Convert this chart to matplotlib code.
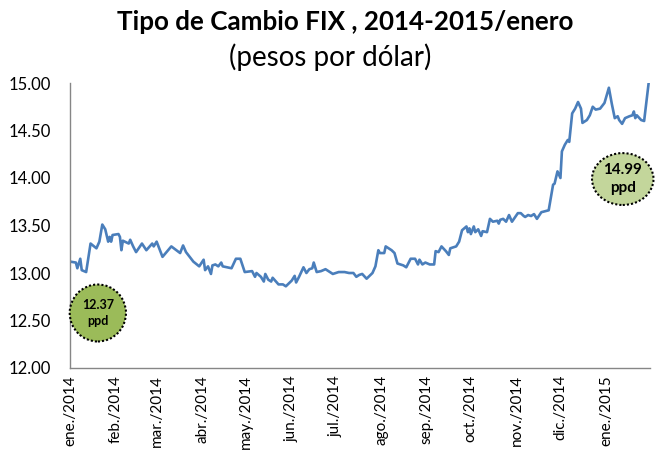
import numpy as np
import pandas as pd
import matplotlib
matplotlib.use("Agg")
import matplotlib.pyplot as plt
from matplotlib.patches import Ellipse

plt.rcParams.update({
    "font.family": ["Lato", "DejaVu Sans"],
    "axes.linewidth": 1.0,
})

# days since 2014-01-01 and FIX rate (pesos per dollar)
days = [0, 4, 5, 7, 8, 11, 14, 18, 20, 22, 24, 26, 27, 28, 29, 33, 34, 35, 36,
        40, 41, 43, 45, 49, 52, 56, 57, 59, 63, 69, 75, 77, 79, 84, 88, 91, 92,
        94, 96, 97, 99, 101, 103, 104, 110, 113, 116, 119, 124, 126, 127, 130,
        132, 133, 135, 137, 138, 142, 145, 147, 151, 153, 154, 156, 159, 161,
        163, 165, 166, 168, 171, 174, 179, 183, 187, 190, 193, 195, 197, 199,
        202, 204, 206, 208, 210, 211, 214, 215, 219, 221, 223, 227, 229, 232,
        235, 237, 238, 240, 242, 245, 248, 249, 251, 253, 256, 258, 259, 263,
        265, 267, 270, 271, 272, 273, 275, 276, 278, 280, 281, 284, 286, 288,
        291, 292, 293, 295, 297, 299, 301, 305, 307, 309, 310, 312, 314, 316,
        318, 321, 326, 329, 330, 332, 334, 335, 337, 339, 340, 342, 344, 346,
        348, 349, 352, 354, 356, 358, 361, 364, 367, 369, 371, 373, 374, 376,
        378, 381, 383, 384, 385, 386, 389, 391, 394]
fix = [13.12, 13.11, 13.05, 13.15, 13.03, 13.01, 13.31, 13.26, 13.33, 13.51,
       13.46, 13.33, 13.38, 13.33, 13.40, 13.41, 13.38, 13.24, 13.34, 13.31,
       13.35, 13.28, 13.22, 13.31, 13.24, 13.31, 13.28, 13.33, 13.17, 13.28,
       13.21, 13.29, 13.22, 13.12, 13.07, 13.14, 13.03, 13.07, 12.99, 13.08,
       13.09, 13.07, 13.11, 13.07, 13.05, 13.15, 13.15, 13.01, 13.02, 12.96,
       13.00, 12.96, 12.91, 12.99, 12.93, 12.91, 12.95, 12.88, 12.88, 12.86,
       12.92, 12.97, 12.90, 12.96, 13.06, 13.00, 13.04, 13.05, 13.11, 13.01,
       13.02, 13.04, 12.99, 13.01, 13.01, 13.00, 13.00, 12.96, 12.98, 12.99,
       12.94, 12.97, 13.00, 13.07, 13.24, 13.21, 13.21, 13.28, 13.24, 13.21,
       13.10, 13.08, 13.06, 13.15, 13.15, 13.09, 13.14, 13.09, 13.11, 13.09,
       13.09, 13.23, 13.22, 13.28, 13.23, 13.19, 13.26, 13.28, 13.33, 13.45,
       13.49, 13.43, 13.47, 13.41, 13.49, 13.43, 13.46, 13.39, 13.44, 13.43,
       13.57, 13.54, 13.55, 13.52, 13.56, 13.57, 13.54, 13.61, 13.54, 13.63,
       13.63, 13.60, 13.59, 13.61, 13.60, 13.62, 13.57, 13.64, 13.66, 13.93,
       13.94, 14.07, 14.00, 14.28, 14.35, 14.40, 14.38, 14.68, 14.73, 14.80,
       14.73, 14.58, 14.61, 14.66, 14.75, 14.72, 14.73, 14.79, 14.95, 14.78,
       14.63, 14.65, 14.61, 14.57, 14.63, 14.65, 14.66, 14.70, 14.63, 14.66,
       14.61, 14.60, 14.99]

month_labels = ["ene./2014", "feb./2014", "mar./2014", "abr./2014", "may./2014",
                "jun./2014", "jul./2014", "ago./2014", "sep./2014", "oct./2014",
                "nov./2014", "dic./2014", "ene./2015"]
y_ticks = [12.0, 12.5, 13.0, 13.5, 14.0, 14.5, 15.0]
low_label = "12.37\nppd"
high_label = "14.99\nppd"

dates = pd.Timestamp("2014-01-01") + pd.to_timedelta(days, unit="D")
month_starts = pd.date_range("2014-01-01", periods=len(month_labels), freq="MS")

fig = plt.figure(figsize=(6.6, 4.5), dpi=100)
ax = fig.add_axes([70 / 660, 1 - 368 / 450, 580 / 660, 285 / 450])

ax.plot(dates, fix, color="#4A7EBB", linewidth=1.9)

ax.set_ylim(12, 15)
ax.set_xlim(pd.Timestamp("2014-01-01"), pd.Timestamp("2015-01-31"))
ax.set_yticks(y_ticks)
ax.set_yticklabels([f"{v:.2f}" for v in y_ticks])
ax.set_xticks(month_starts)
ax.set_xticklabels(month_labels, rotation=90, va="top", ha="center")
ax.tick_params(axis="both", length=0, colors="black")
ax.tick_params(axis="x", pad=5, labelsize=11)
ax.tick_params(axis="y", pad=14, labelsize=12)

for side in ["top", "right"]:
    ax.spines[side].set_visible(False)
for side in ["left", "bottom"]:
    ax.spines[side].set_color("#868686")

# highlighted min / max bubbles
e1 = Ellipse((0.048, 0.193), 0.097, 0.2, transform=ax.transAxes,
             facecolor="#9BBB59", edgecolor="black", linestyle=(0, (1, 1)),
             linewidth=1.5, clip_on=False, zorder=3)
ax.add_patch(e1)
ax.text(0.048, 0.193, low_label, transform=ax.transAxes, ha="center",
        va="center", fontsize=9, fontweight="bold", linespacing=1.35, zorder=4)

e2 = Ellipse((0.953, 0.663), 0.106, 0.182, transform=ax.transAxes,
             facecolor="#C3D69B", edgecolor="black", linestyle=(0, (1, 1)),
             linewidth=1.5, clip_on=False, zorder=3)
ax.add_patch(e2)
ax.text(0.953, 0.663, high_label, transform=ax.transAxes, ha="center",
        va="center", fontsize=11, fontweight="bold", linespacing=1.3, zorder=4)

fig.text(345 / 660, 1 - 22 / 450, "Tipo de Cambio FIX , 2014-2015/enero",
         ha="center", va="center", fontsize=18.7, fontweight="bold")
fig.text(330 / 660, 1 - 57 / 450, "(pesos por dólar)",
         ha="center", va="center", fontsize=20)

fig.savefig("out.png", dpi=100)
